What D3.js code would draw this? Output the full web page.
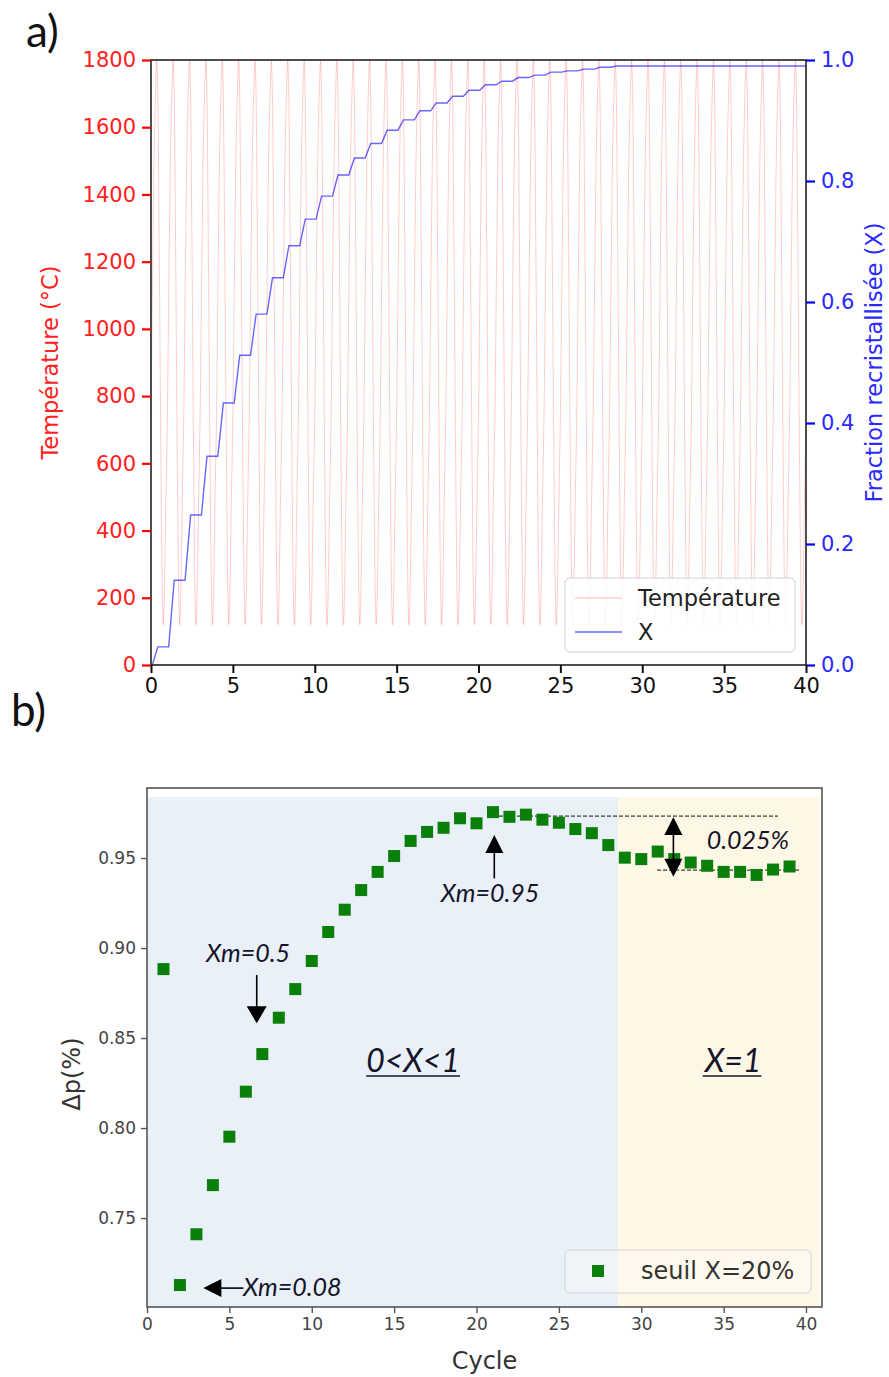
<!DOCTYPE html>
<html><head><meta charset="utf-8">
<script src="https://cdn.jsdelivr.net/npm/d3@7"></script>
<style>body{margin:0;background:#fff;} svg{display:block;}</style>
</head><body><svg id="c" width="889" height="1377"></svg>
<script>
// ---------- Panel a) data ----------
const tempTicks = [0,200,400,600,800,1000,1200,1400,1600,1800];
const fracTicks = [0.0,0.2,0.4,0.6,0.8,1.0];
const timeTicks = [0,5,10,15,20,25,30,35,40];
const nCycles = 40;
// one thermal cycle (phase within a cycle -> temperature in °C), repeated each cycle
const tempCyclePhase = [0,0.10,0.20,0.30,0.35,0.40,0.50,0.60,0.70,0.75,0.80,0.90,1.0];
const tempCycleValue = [742,1180,1550,1745,1800,1735,1260,640,195,120,175,470,742];
// recrystallised fraction X reached after each cycle (step levels)
const fracLevels = [0.030,0.140,0.248,0.345,0.433,0.512,0.580,0.640,0.693,0.737,
                    0.775,0.810,0.838,0.862,0.884,0.901,0.916,0.929,0.940,0.950,
                    0.959,0.965,0.971,0.975,0.980,0.982,0.985,0.988,0.990,0.990,
                    0.990,0.990,0.990,0.990,0.990,0.990,0.990,0.990,0.990,0.990];
const riseStartPhase = 0.08, riseEndPhase = 0.42;

// ---------- Panel b) data ----------
const cycles = [1,2,3,4,5,6,7,8,9,10,11,12,13,14,15,16,17,18,19,20,
                21,22,23,24,25,26,27,28,29,30,31,32,33,34,35,36,37,38,39];
const deltaP = [0.8883,0.7128,0.7410,0.7683,0.7952,0.8202,0.8411,0.8613,0.8772,0.8928,
                0.9089,0.9213,0.9322,0.9423,0.9511,0.9595,0.9645,0.9668,0.9721,0.9693,
                0.9755,0.9729,0.9741,0.9713,0.9696,0.9661,0.9638,0.9572,0.9502,0.9494,
                0.9536,0.9494,0.9475,0.9457,0.9423,0.9423,0.9406,0.9436,0.9453];
const dpTicks = [0.75,0.80,0.85,0.90,0.95];
const cycleTicks = [0,5,10,15,20,25,30,35,40];
const zoneBoundary = 28.6;

const svg = d3.select("#c");
const FONT = "'DejaVu Sans', sans-serif";
const AFONT = "Lato, 'Open Sans', sans-serif";

// ================= Panel a =================
const xA = d3.scaleLinear().domain([0,40]).range([151,806]);
const yT = d3.scaleLinear().domain([0,1800]).range([665,60]);
const yX = d3.scaleLinear().domain([0,1]).range([665,60]);

svg.append("defs").append("clipPath").attr("id","clipA").append("rect")
  .attr("x",xA(0)).attr("y",yT(1800)).attr("width",xA(40)-xA(0)).attr("height",yT(0)-yT(1800));

const tempPts = [];
for (let k=0;k<nCycles;k++){
  for (let i=0;i<tempCyclePhase.length-1;i++) tempPts.push([k+tempCyclePhase[i], tempCycleValue[i]]);
}
tempPts.push([nCycles, tempCycleValue[tempCycleValue.length-1]]);

const gA = svg.append("g");
gA.append("path").datum(tempPts).attr("clip-path","url(#clipA)")
  .attr("d", d3.line().x(d=>xA(d[0])).y(d=>yT(d[1])).curve(d3.curveCatmullRom.alpha(0.5)))
  .attr("fill","none").attr("stroke","#ff0000").attr("stroke-opacity",0.2).attr("stroke-width",1);

const fracPts = [[0,0]];
let prev = 0;
fracLevels.forEach((lv,k)=>{
  fracPts.push([k+riseStartPhase, prev]);
  fracPts.push([k+riseEndPhase, lv]);
  prev = lv;
});
fracPts.push([nCycles, prev]);
gA.append("path").datum(fracPts)
  .attr("d", d3.line().x(d=>xA(d[0])).y(d=>yX(d[1])))
  .attr("fill","none").attr("stroke","#0000ff").attr("stroke-opacity",0.6).attr("stroke-width",1.4);

// frame
gA.append("rect").attr("x",xA(0)).attr("y",yT(1800)).attr("width",xA(40)-xA(0)).attr("height",yT(0)-yT(1800))
  .attr("fill","none").attr("stroke","#222").attr("stroke-width",1.6);

// left axis
const axL = gA.append("g").attr("transform",`translate(${xA(0)},0)`)
  .call(d3.axisLeft(yT).tickValues(tempTicks).tickSize(9).tickPadding(6).tickFormat(d3.format("d")));
axL.select(".domain").remove();
axL.selectAll("line").attr("stroke","#ff0000").attr("stroke-width",2.2);
axL.selectAll("text").attr("fill","#ff2020").style("font-family",FONT).style("font-size","21px");

// right axis
const axR = gA.append("g").attr("transform",`translate(${xA(40)},0)`)
  .call(d3.axisRight(yX).tickValues(fracTicks).tickSize(9).tickPadding(6).tickFormat(d3.format(".1f")));
axR.select(".domain").remove();
axR.selectAll("line").attr("stroke","#0000ff").attr("stroke-width",2.2);
axR.selectAll("text").attr("fill","#2a2aff").style("font-family",FONT).style("font-size","21px");

// bottom axis
const axB = gA.append("g").attr("transform",`translate(0,${yT(0)})`)
  .call(d3.axisBottom(xA).tickValues(timeTicks).tickSize(8).tickPadding(5).tickFormat(d3.format("d")));
axB.select(".domain").remove();
axB.selectAll("line").attr("stroke","#111").attr("stroke-width",2);
axB.selectAll("text").attr("fill","#111").style("font-family",FONT).style("font-size","21px");

gA.append("text").attr("transform",`translate(58,${(yT(0)+yT(1800))/2}) rotate(-90)`)
  .attr("text-anchor","middle").attr("fill","#ff2020").style("font-family",FONT).style("font-size","22.5px")
  .text("Température (°C)");
gA.append("text").attr("transform",`translate(882,${(yT(0)+yT(1800))/2}) rotate(-90)`)
  .attr("text-anchor","middle").attr("fill","#2a2aff").style("font-family",FONT).style("font-size","22.5px")
  .text("Fraction recristallisée (X)");

// legend a
const lgA = gA.append("g");
lgA.append("rect").attr("x",565).attr("y",578).attr("width",230).attr("height",74).attr("rx",5)
  .attr("fill","#fff").attr("fill-opacity",0.85).attr("stroke","#d0d0d0");
lgA.append("line").attr("x1",575).attr("x2",622).attr("y1",598).attr("y2",598)
  .attr("stroke","#ff0000").attr("stroke-opacity",0.2).attr("stroke-width",1.4);
lgA.append("line").attr("x1",575).attr("x2",622).attr("y1",632).attr("y2",632)
  .attr("stroke","#0000ff").attr("stroke-opacity",0.6).attr("stroke-width",1.4);
lgA.append("text").attr("x",638).attr("y",598).attr("dy","0.35em").attr("fill","#222")
  .style("font-family",FONT).style("font-size","22.5px").text("Température");
lgA.append("text").attr("x",638).attr("y",632).attr("dy","0.35em").attr("fill","#222")
  .style("font-family",FONT).style("font-size","22.5px").text("X");

svg.append("text").attr("x",26).attr("y",47).attr("fill","#111").style("font-family",AFONT).style("font-size","44px").text("a)");
svg.append("text").attr("x",11).attr("y",726).attr("fill","#111").style("font-family",AFONT).style("font-size","44px").text("b)");

// ================= Panel b =================
const xB = d3.scaleLinear().domain([0,40.97]).range([147,822]);
const yB = d3.scaleLinear().domain([0.7006,0.9889]).range([1307,788]);
const gB = svg.append("g");

gB.append("rect").attr("x",xB(0)).attr("y",yB(0.9839)).attr("width",xB(zoneBoundary)-xB(0))
  .attr("height",yB(0.7006)-yB(0.9839)).attr("fill","#eaf0f7");
gB.append("rect").attr("x",xB(zoneBoundary)).attr("y",yB(0.9839)).attr("width",xB(40.79)-xB(zoneBoundary))
  .attr("height",yB(0.7006)-yB(0.9839)).attr("fill","#fef7e6");

// dashed reference lines
gB.append("line").attr("x1",xB(21.0)).attr("x2",xB(38.3)).attr("y1",yB(0.9733)).attr("y2",yB(0.9733))
  .attr("stroke","#111").attr("stroke-width",1).attr("stroke-dasharray","4,2");
gB.append("line").attr("x1",xB(30.96)).attr("x2",xB(39.7)).attr("y1",yB(0.9433)).attr("y2",yB(0.9433))
  .attr("stroke","#111").attr("stroke-width",1).attr("stroke-dasharray","4,2");

// points
const sq = 12;
gB.selectAll("rect.pt").data(cycles.map((c,i)=>[c,deltaP[i]])).enter().append("rect")
  .attr("class","pt").attr("x",d=>xB(d[0])-sq/2).attr("y",d=>yB(d[1])-sq/2)
  .attr("width",sq).attr("height",sq).attr("fill","#0a7f0a");

// frame
gB.append("rect").attr("x",xB(0)).attr("y",yB(0.9889)).attr("width",xB(40.97)-xB(0)).attr("height",yB(0.7006)-yB(0.9889))
  .attr("fill","none").attr("stroke","#555").attr("stroke-width",1.6);

const bL = gB.append("g").attr("transform",`translate(${xB(0)},0)`)
  .call(d3.axisLeft(yB).tickValues(dpTicks).tickSize(6).tickPadding(5).tickFormat(d3.format(".2f")));
bL.select(".domain").remove();
bL.selectAll("line").attr("stroke","#555").attr("stroke-width",1.4);
bL.selectAll("text").attr("fill","#444").style("font-family",FONT).style("font-size","17px");

const bB = gB.append("g").attr("transform",`translate(0,${yB(0.7006)})`)
  .call(d3.axisBottom(xB).tickValues(cycleTicks).tickSize(6).tickPadding(5).tickFormat(d3.format("d")));
bB.select(".domain").remove();
bB.selectAll("line").attr("stroke","#555").attr("stroke-width",1.4);
bB.selectAll("text").attr("fill","#444").style("font-family",FONT).style("font-size","17px");

gB.append("text").attr("x",(xB(0)+xB(40.97))/2).attr("y",1369).attr("text-anchor","middle").attr("fill","#333")
  .style("font-family",FONT).style("font-size","24px").text("Cycle");
gB.append("text").attr("transform",`translate(80,${yB(0.83)}) rotate(-90)`).attr("text-anchor","middle").attr("fill","#333")
  .style("font-family",FONT).style("font-size","24px").text("Δp(%)");

// arrows helper
function arrowHead(tip, dir, len, half){ // dir: unit vector pointing to tip
  const [tx,ty]=tip, [dx,dy]=dir;
  const bx=tx-dx*len, by=ty-dy*len;
  return `M${tx},${ty}L${bx-dy*half},${by+dx*half}L${bx+dy*half},${by-dx*half}Z`;
}
function arrow(x1,y1,x2,y2,len,half){
  const L=Math.hypot(x2-x1,y2-y1), dx=(x2-x1)/L, dy=(y2-y1)/L;
  gB.append("line").attr("x1",x1).attr("y1",y1).attr("x2",x2-dx*len*0.8).attr("y2",y2-dy*len*0.8)
    .attr("stroke","#000").attr("stroke-width",1.6);
  gB.append("path").attr("d",arrowHead([x2,y2],[dx,dy],len,half)).attr("fill","#000");
}
// Xm=0.5
arrow(xB(6.66),yB(0.885),xB(6.66),yB(0.8582),17,10);
// Xm=0.95
arrow(xB(21.08),yB(0.9387),xB(21.08),yB(0.9628),18,9);
// Xm=0.08
arrow(xB(5.85),yB(0.7111),xB(3.42),yB(0.7111),18,9);
// double arrow 0.025%
const dax = xB(31.95);
gB.append("line").attr("x1",dax).attr("x2",dax).attr("y1",yB(0.9725)+14).attr("y2",yB(0.9396)-14)
  .attr("stroke","#000").attr("stroke-width",1.6);
gB.append("path").attr("d",arrowHead([dax,yB(0.9728)],[0,-1],18,9)).attr("fill","#000");
gB.append("path").attr("d",arrowHead([dax,yB(0.9396)],[0,1],18,9)).attr("fill","#000");

function ann(x,y,txt,size,anchor,underline){
  const t = gB.append("text").attr("x",x).attr("y",y).attr("text-anchor",anchor||"start")
    .attr("fill","#14142a").style("font-family",AFONT).style("font-style","italic").style("font-size",size+"px").text(txt);
  if (underline){
    const bb = t.node().getBBox();
    gB.append("line").attr("x1",bb.x).attr("x2",bb.x+bb.width).attr("y1",y+4).attr("y2",y+4)
      .attr("stroke","#14142a").attr("stroke-width",1.6);
  }
}
ann(xB(6.13),yB(0.8922),"Xm=0.5",25,"middle");
ann(xB(20.82),yB(0.9256),"Xm=0.95",25,"middle");
ann(xB(5.83),yB(0.7067),"Xm=0.08",25,"start");
ann(xB(33.97),yB(0.955),"0.025%",25,"start");
ann(xB(16.15),yB(0.8311),"0<X<1",32,"middle",true);
ann(xB(35.57),yB(0.8311),"X=1",32,"middle",true);

// legend b
const lgB = gB.append("g");
lgB.append("rect").attr("x",565).attr("y",1250).attr("width",246).attr("height",43).attr("rx",5)
  .attr("fill","#fff").attr("fill-opacity",0.25).attr("stroke","#d4d4d4");
lgB.append("rect").attr("x",598-6).attr("y",1271-6).attr("width",12).attr("height",12).attr("fill","#0a7f0a");
lgB.append("text").attr("x",641).attr("y",1271).attr("dy","0.35em").attr("fill","#333")
  .style("font-family",FONT).style("font-size","24px").text("seuil X=20%");
</script></body></html>
